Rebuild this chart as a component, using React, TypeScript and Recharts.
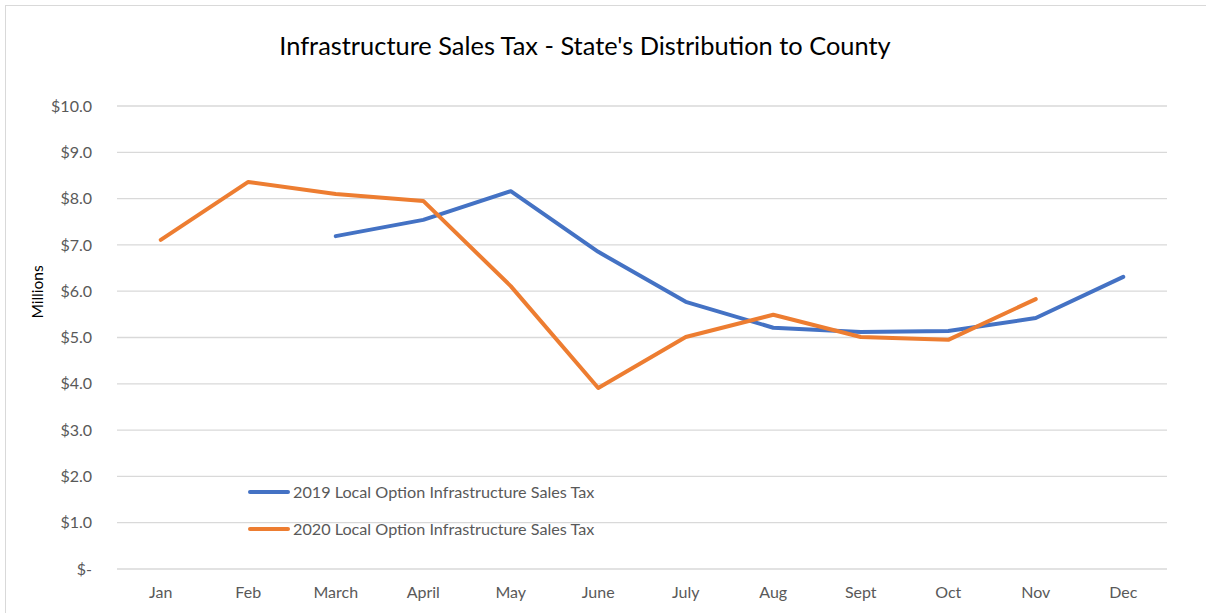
import React from 'react';
import { LineChart, Line, XAxis, YAxis, CartesianGrid, Legend } from 'recharts';

const months = ['Jan', 'Feb', 'March', 'April', 'May', 'June', 'July', 'Aug', 'Sept', 'Oct', 'Nov', 'Dec'];
const tax2019: (number | null)[] = [null, null, 7.19, 7.54, 8.16, 6.85, 5.77, 5.21, 5.12, 5.14, 5.42, 6.31];
const tax2020: (number | null)[] = [7.11, 8.36, 8.10, 7.95, 6.11, 3.91, 5.01, 5.49, 5.01, 4.95, 5.83, null];
const yTicks = [0, 1, 2, 3, 4, 5, 6, 7, 8, 9, 10];

const name2019 = '2019 Local Option Infrastructure Sales Tax';
const name2020 = '2020 Local Option Infrastructure Sales Tax';
const title = "Infrastructure Sales Tax - State's Distribution to County";

const data = months.map((m, i) => ({ month: m, y2019: tax2019[i], y2020: tax2020[i] }));

const FONT = 'Lato, "Open Sans", sans-serif';
const TEXT = '#595959';

const LegendContent = (props: any) => {
  const payload = props.payload || [];
  return (
    <div style={{ fontFamily: FONT, position: 'absolute', left: 248, top: 473, width: 420 }}>
      {payload.map((p: any, i: number) => (
        <div key={i} style={{ display: 'flex', alignItems: 'center', height: 37, fontSize: 16.2, color: TEXT, whiteSpace: 'nowrap' }}>
          <span style={{ display: 'inline-block', width: 42, height: 4, borderRadius: 2, background: p.color, marginRight: 3 }} />
          <span>{p.value}</span>
        </div>
      ))}
    </div>
  );
};

const MillionsLabel = () => (
  <text x={37} y={292} transform="rotate(-90, 37, 292)" textAnchor="middle" dominantBaseline="central"
    fontFamily={FONT} fontSize={15.5} fill="#000">Millions</text>
);

export default function App() {
  return (
    <div style={{ position: 'absolute', left: 0, top: 0, width: 1206, height: 613, overflow: 'hidden', background: '#fff' }}>
      <div style={{ position: 'absolute', left: 5, top: 5, width: 1240, height: 640, border: '1px solid #d9d9d9', boxSizing: 'border-box' }} />
      <div style={{ position: 'absolute', left: 0, top: 30, width: 1170, textAlign: 'center', fontFamily: FONT, fontSize: 25.4, color: '#000' }}>
        {title}
      </div>
      <div style={{ position: 'absolute', left: 0, top: 0 }}>
        <LineChart width={1206} height={613} data={data} margin={{ top: 106, right: 39, bottom: 14, left: 57 }}>
          <CartesianGrid vertical={false} stroke="#d9d9d9" strokeWidth={1.3} />
          <XAxis dataKey="month" axisLine={false} tickLine={false} height={30} padding={{ left: 43.75, right: 43.75 }}
            tick={{ fontFamily: FONT, fontSize: 16, fill: TEXT }} tickMargin={12} interval={0} />
          <YAxis domain={[0, 10]} ticks={yTicks} axisLine={false} tickLine={false} width={60} interval={0}
            tick={{ fontFamily: FONT, fontSize: 16, fill: TEXT }} tickMargin={19}
            tickFormatter={(v: number) => (v === 0 ? '$-' : `$${v.toFixed(1)}`)}
            label={<MillionsLabel />} />
          <Legend layout="vertical" verticalAlign="middle" align="center" content={<LegendContent />}
            wrapperStyle={{ position: 'absolute', left: 0, top: 0, width: 0, height: 0 }} />
          <Line type="linear" dataKey="y2019" name={name2019} stroke="#4472C4" strokeWidth={4} dot={false}
            isAnimationActive={false} strokeLinecap="round" strokeLinejoin="round" />
          <Line type="linear" dataKey="y2020" name={name2020} stroke="#ED7D31" strokeWidth={4} dot={false}
            isAnimationActive={false} strokeLinecap="round" strokeLinejoin="round" />
        </LineChart>
      </div>
    </div>
  );
}
